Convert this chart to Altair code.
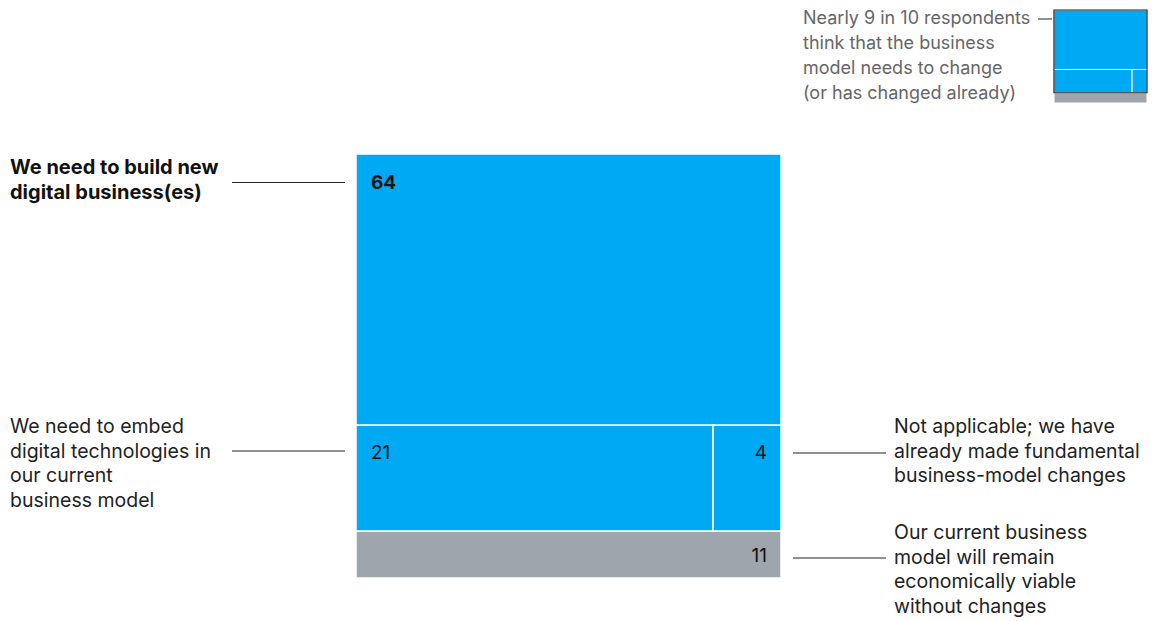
import altair as alt
import pandas as pd

# ---- data ----
segment_labels = ["build_new", "embed", "already_changed", "no_change"]
segment_values = [64, 21, 4, 11]
segment_rows = [0, 1, 1, 2]          # row of the treemap each segment sits in
segment_colors = ["#00A9F4", "#00A9F4", "#00A9F4", "#9EA5AC"]
value_text = ["64", "21", "4", "11"]

left_top_label = ["We need to build new", "digital business(es)"]
left_mid_label = ["We need to embed", "digital technologies in", "our current", "business model"]
right_mid_label = ["Not applicable; we have", "already made fundamental", "business-model changes"]
right_bot_label = ["Our current business", "model will remain", "economically viable", "without changes"]
inset_label = ["Nearly 9 in 10 respondents", "think that the business", "model needs to change", "(or has changed already)"]

FONT = "Inter"
TEXT = "#222222"

# ---- layout of the treemap ----
def treemap(x0, y0, w, h):
    total = sum(segment_values)
    rows = sorted(set(segment_rows))
    recs = []
    cy = y0
    for r in rows:
        idx = [i for i, rr in enumerate(segment_rows) if rr == r]
        rsum = sum(segment_values[i] for i in idx)
        rh = h * rsum / total
        cx = x0
        for i in idx:
            cw = w * segment_values[i] / rsum
            recs.append(dict(seg=segment_labels[i], x=cx, x2=cx + cw, y=cy, y2=cy + rh,
                             color=segment_colors[i], txt=value_text[i], idx=i))
            cx += cw
        cy += rh
    return pd.DataFrame(recs)

main = treemap(356, 154, 425, 424)
inset = treemap(1054, 10, 93, 93)

px = lambda f: alt.X(f, type="quantitative", scale=None, axis=None)
py = lambda f: alt.Y(f, type="quantitative", scale=None, axis=None)

rects = alt.Chart(main).mark_rect(stroke="white", strokeWidth=1.5).encode(
    x=px("x"), x2="x2", y=py("y"), y2="y2",
    color=alt.Color("color:N", scale=None))

inset_rects = alt.Chart(inset).mark_rect(stroke="white", strokeWidth=1).encode(
    x=px("x"), x2="x2", y=py("y"), y2="y2",
    color=alt.Color("color:N", scale=None))

blue = inset[inset["color"] == "#00A9F4"]
inset_border = pd.DataFrame([dict(x=blue["x"].min(), x2=blue["x2"].max(),
                                  y=blue["y"].min(), y2=blue["y2"].max())])
inset_frame = alt.Chart(inset_border).mark_rect(fill=None, stroke="#222222", strokeWidth=1.2).encode(
    x=px("x"), x2="x2", y=py("y"), y2="y2")

# value labels
vl = main.copy()
vl["tx"] = vl.apply(lambda r: r["x"] + 15 if r["seg"] in ("build_new", "embed") else r["x2"] - 14, axis=1)
vl["ty"] = vl.apply(lambda r: r["y"] + 29 if r["seg"] == "build_new" else
                    (r["y"] + 28 if r["seg"] in ("embed", "already_changed") else (r["y"] + r["y2"]) / 2 + 1), axis=1)
vl["align"] = vl["seg"].map({"build_new": "left", "embed": "left", "already_changed": "right", "no_change": "right"})

def vtext(df, align, weight):
    return alt.Chart(df).mark_text(align=align, baseline="middle", font=FONT, fontSize=19,
                                   fontWeight=weight, color="#111111").encode(
        x=px("tx"), y=py("ty"), text="txt:N")

v1 = vtext(vl[vl["seg"] == "build_new"], "left", "bold")
v2 = vtext(vl[vl["seg"] == "embed"], "left", "normal")
v3 = vtext(vl[vl["align"] == "right"], "right", "normal")

# annotation text blocks
def block(lines, x, y_first, lh, align="left", weight="normal", color=TEXT, size=19.5):
    df = pd.DataFrame(dict(t=lines, x=x, y=[y_first + i * lh for i in range(len(lines))]))
    return alt.Chart(df).mark_text(align=align, baseline="middle", font=FONT, fontSize=size,
                                   fontWeight=weight, color=color).encode(
        x=px("x"), y=py("y"), text="t:N")

t1 = block(left_top_label, 10, 168, 25, weight="bold", color="#111111", size=20)
t2 = block(left_mid_label, 10, 427, 24.5)
t3 = block(right_mid_label, 894, 427, 24.5)
t4 = block(right_bot_label, 894, 533, 24.5)
t5 = block(inset_label, 803, 19, 25, color="#666666", size=18)

leaders = pd.DataFrame(dict(
    x=[232, 232, 793, 793, 1038],
    x2=[345, 345, 886, 886, 1052],
    y=[182.5, 451, 453, 558, 19],
))
lines = alt.Chart(leaders).mark_rule(color="#222222", strokeWidth=1).encode(
    x=px("x"), x2="x2", y=py("y"))

chart = alt.layer(rects, inset_rects, inset_frame, v1, v2, v3, t1, t2, t3, t4, t5, lines).properties(
    width=1160, height=621, padding=0, autosize=alt.AutoSizeParams(type="none"),
).configure_view(stroke=None)

chart.save("out.html", embed_options={"renderer": "svg", "actions": False})
